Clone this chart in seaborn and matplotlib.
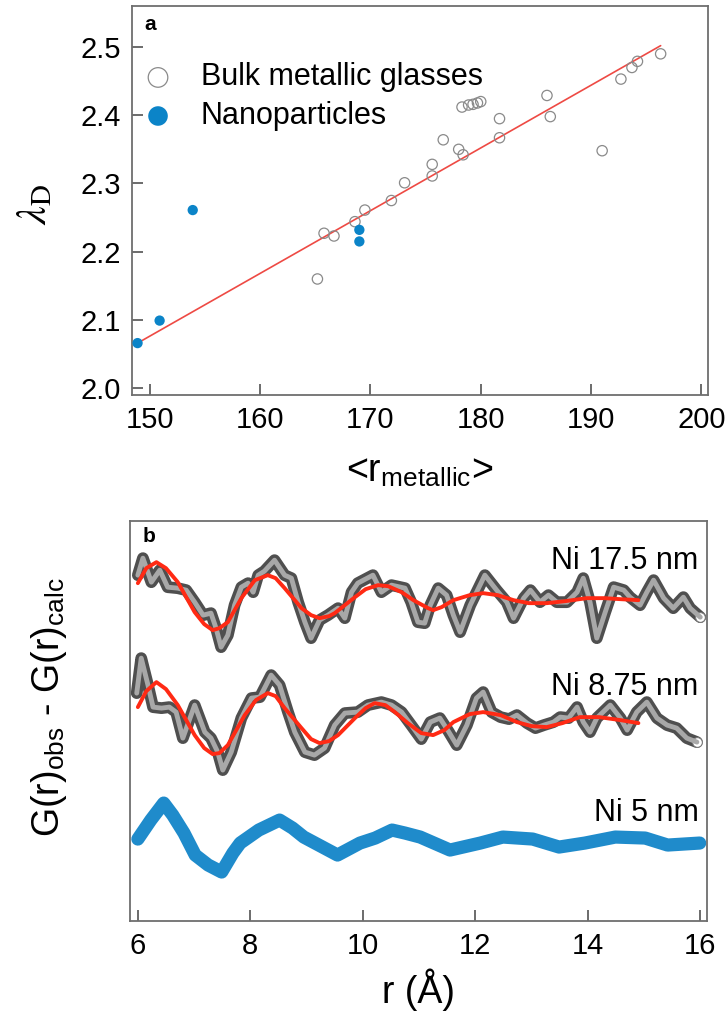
import numpy as np
import pandas as pd
import matplotlib
matplotlib.use("Agg")
import matplotlib.pyplot as plt
import seaborn as sns

# ---------------- data: panel a ----------------
bmg_r = [165.2, 165.8, 166.7, 168.6, 169.5, 171.9, 173.1, 175.6, 175.6, 176.6,
         178.0, 178.4, 178.3, 178.9, 179.3, 179.7, 180.0, 181.7, 181.7, 186.0,
         186.3, 191.0, 192.7, 193.7, 194.2, 196.3]
bmg_lam = [2.160, 2.227, 2.223, 2.244, 2.261, 2.275, 2.301, 2.311, 2.328, 2.364,
           2.350, 2.342, 2.412, 2.415, 2.416, 2.418, 2.420, 2.395, 2.367, 2.429,
           2.398, 2.348, 2.453, 2.470, 2.479, 2.490]
np_r = [148.9, 150.9, 153.9, 169.0, 169.0]
np_lam = [2.066, 2.099, 2.261, 2.232, 2.215]
fit_r = [148.9, 196.3]
fit_lam = [2.066, 2.502]
xticks_a = [150, 160, 170, 180, 190, 200]
yticks_a = [2.0, 2.1, 2.2, 2.3, 2.4, 2.5]

# ---------------- data: panel b ----------------
r17 = [6.00, 6.09, 6.24, 6.39, 6.53, 6.71, 6.86, 7.01, 7.16, 7.30, 7.39, 7.48, 7.60, 7.72,
       7.84, 7.96, 8.05, 8.14, 8.25, 8.43, 8.61, 8.73, 8.85, 8.97, 9.08, 9.23, 9.38, 9.56,
       9.68, 9.80, 9.91, 10.18, 10.33, 10.51, 10.75, 10.86, 10.98, 11.10, 11.20, 11.34,
       11.49, 11.61, 11.73, 11.91, 12.17, 12.38, 12.56, 12.68, 12.86, 12.98, 13.15, 13.30,
       13.45, 13.63, 13.81, 13.92, 14.04, 14.16, 14.31, 14.46, 14.64, 14.75, 14.93, 15.05,
       15.17, 15.35, 15.52, 15.70, 15.82, 16.00]
g17 = [34.6, 36.3, 33.9, 35.1, 33.4, 33.3, 33.1, 31.9, 30.6, 30.8, 29.3, 27.4, 28.6, 31.6,
       33.4, 33.8, 32.9, 34.6, 35.0, 36.1, 34.6, 34.3, 31.9, 29.9, 28.3, 30.1, 30.6, 31.3,
       30.3, 32.9, 33.8, 34.6, 32.9, 33.6, 33.3, 31.9, 29.9, 29.8, 31.6, 33.3,
       32.6, 30.6, 28.9, 31.6, 34.6, 33.1, 31.9, 30.3, 32.3, 33.1, 31.9, 32.6,
       31.9, 31.9, 32.9, 34.3, 31.9, 28.3, 30.9, 33.4, 33.1, 32.4, 31.6, 32.9,
       34.1, 32.3, 31.3, 32.4, 31.3, 30.4]
rf17 = [6.00, 6.15, 6.33, 6.50, 6.71, 7.01, 7.18, 7.33, 7.45, 7.60, 7.84, 8.08, 8.31, 8.45,
        8.61, 8.91, 9.08, 9.23, 9.40, 9.50, 9.86, 10.05, 10.27, 10.45, 10.69, 10.90, 11.16,
        11.25, 11.40, 11.61, 11.90, 12.14, 12.40, 12.68, 12.95, 13.27, 13.60, 13.98, 14.30,
        14.58, 14.90]
gf17 = [33.8, 35.3, 35.9, 35.3, 33.9, 30.9, 29.7, 29.1, 29.3, 29.9, 32.3, 34.1, 34.6, 34.3,
        33.3, 31.3, 30.6, 30.3, 30.5, 30.8, 32.4, 33.2, 33.6, 33.5, 32.9, 32.1, 31.3,
        31.1, 31.4, 32.1, 32.6, 32.8, 32.6, 32.1, 31.8, 31.8, 32.0, 32.3, 32.3,
        32.2, 32.1]

r8 = [5.98, 6.06, 6.18, 6.27, 6.42, 6.56, 6.68, 6.80, 7.01, 7.19, 7.30, 7.42, 7.51, 7.66,
      7.84, 8.02, 8.17, 8.37, 8.52, 8.67, 8.79, 8.97, 9.14, 9.32, 9.50, 9.68, 9.91, 10.09,
      10.33, 10.51, 10.69, 10.86, 11.04, 11.20, 11.37, 11.52, 11.67, 11.85, 12.02, 12.14,
      12.29, 12.45, 12.60, 12.74, 12.92, 13.07, 13.22, 13.39, 13.51, 13.66, 13.81, 13.92,
      14.04, 14.16, 14.40, 14.58, 14.70, 14.87, 15.05, 15.23, 15.41, 15.58, 15.76, 15.94]
g8 = [22.8, 26.3, 23.6, 21.4, 21.3, 21.4, 20.9, 18.3, 21.6, 18.9, 18.3, 16.9, 15.1, 16.9,
      20.3, 22.3, 22.4, 24.6, 23.6, 20.9, 18.9, 16.9, 16.6, 17.3, 19.6, 20.8, 20.9, 21.6,
      21.9, 21.6, 20.9, 19.6, 18.2, 19.9, 20.3, 19.0, 17.6, 19.6, 22.3, 22.9,
      20.9, 20.4, 20.2, 20.6, 19.8, 19.3, 19.6, 19.9, 20.4, 20.3, 21.4, 19.9,
      18.9, 20.3, 21.6, 20.3, 19.1, 20.9, 21.9, 20.3, 19.6, 19.3, 18.3, 17.9]
rf8 = [6.00, 6.15, 6.33, 6.50, 6.71, 7.01, 7.18, 7.33, 7.45, 7.60, 7.90, 8.10, 8.31, 8.45,
       8.61, 8.91, 9.08, 9.23, 9.40, 9.56, 9.86, 10.05, 10.21, 10.40, 10.57, 10.80, 11.04,
       11.25, 11.45, 11.61, 11.90, 12.14, 12.45, 12.74, 13.00, 13.27, 13.55, 13.86, 14.20,
       14.58, 14.90]
gf8 = [21.4, 23.0, 23.9, 23.2, 21.6, 18.6, 17.3, 16.7, 16.8, 17.6, 20.6, 22.1, 22.8, 22.5,
       21.3, 19.3, 18.2, 17.8, 18.0, 18.6, 20.3, 21.3, 21.8, 21.6, 20.9, 19.8, 18.8,
       18.6, 19.1, 19.9, 20.7, 20.9, 20.6, 19.9, 19.5, 19.4, 19.8, 20.4, 20.4,
       20.1, 19.8]

r5 = [6.00, 6.23, 6.46, 6.62, 6.82, 7.02, 7.25, 7.49, 7.69, 7.82, 8.15, 8.52, 8.75, 8.95,
      9.15, 9.55, 9.95, 10.22, 10.52, 10.75, 11.02, 11.55, 12.09, 12.49, 13.02, 13.49,
      13.95, 14.49, 15.02, 15.42, 15.99]
g5 = [8.2, 10.1, 11.8, 10.6, 8.8, 6.6, 5.6, 4.9, 6.8, 7.8, 9.1, 10.1, 9.3, 8.4,
      7.8, 6.6, 7.8, 8.3, 9.1, 8.8, 8.4, 7.1, 7.8, 8.4, 8.2, 7.4,
      7.8, 8.4, 8.3, 7.6, 7.8]
xticks_b = [6, 8, 10, 12, 14, 16]
labels_b = ["Ni 17.5 nm", "Ni 8.75 nm", "Ni 5 nm"]
label_y_b = [36.0, 23.4, 10.8]

# ---------------- style ----------------
sns.set_style("white")
plt.rcParams["font.family"] = ["Liberation Sans", "DejaVu Sans"]
plt.rcParams["mathtext.fontset"] = "stix"
for k in ("text.color", "axes.labelcolor", "xtick.color", "ytick.color"):
    plt.rcParams[k] = "black"

BLUE = "#0b84c8"
GREY_EDGE = "#8a8a8a"
SPINE = "#6e6e6e"

fig = plt.figure(figsize=(7.27, 10.14), dpi=100)
ax1 = fig.add_axes([0.1816, 0.6105, 0.7924, 0.3835])
ax2 = fig.add_axes([0.1788, 0.0917, 0.7937, 0.3943])

# ---------------- panel a ----------------
bmg = pd.DataFrame({"r": bmg_r, "lam": bmg_lam})
nps = pd.DataFrame({"r": np_r, "lam": np_lam})
fit = pd.DataFrame({"r": fit_r, "lam": fit_lam})

sns.lineplot(data=fit, x="r", y="lam", ax=ax1, color="#ee4a44", lw=1.2, zorder=1)
sns.scatterplot(data=bmg, x="r", y="lam", ax=ax1, s=55, facecolors="none",
                edgecolor=GREY_EDGE, linewidth=0.9, label="Bulk metallic glasses", zorder=2)
sns.scatterplot(data=nps, x="r", y="lam", ax=ax1, s=55, color=BLUE,
                edgecolor="none", label="Nanoparticles", zorder=3)

ax1.set_xlim(148.4, 200.6)
ax1.set_ylim(1.99, 2.56)
ax1.set_xticks(xticks_a)
ax1.set_yticks(yticks_a)
ax1.set_yticklabels([f"{v:.1f}" for v in yticks_a])
ax1.set_xlabel("<r$_{\\mathregular{metallic}}$>", fontsize=27, labelpad=14)
ax1.set_ylabel("$\\lambda_{\\mathrm{D}}$", fontsize=30)
ax1.yaxis.set_label_coords(-0.134, 0.49)
ax1.text(0.022, 0.978, "a", transform=ax1.transAxes, ha="left", va="top",
         fontsize=15, fontweight="bold")
leg = ax1.legend(loc="upper left", bbox_to_anchor=(0.0186, 0.855), frameon=False,
                 markerscale=1.9, fontsize=22, handlelength=1.0, handletextpad=0.9,
                 labelspacing=0.28, borderpad=0, borderaxespad=0)

# ---------------- panel b ----------------
d17 = pd.DataFrame({"r": r17, "g": g17})
f17 = pd.DataFrame({"r": rf17, "g": gf17})
d8 = pd.DataFrame({"r": r8, "g": g8})
f8 = pd.DataFrame({"r": rf8, "g": gf8})
d5 = pd.DataFrame({"r": r5, "g": g5})

for d in (d17, d8):
    sns.lineplot(data=d, x="r", y="g", ax=ax2, sort=False, color="#4f4f4f", lw=8.5,
                 solid_joinstyle="round", solid_capstyle="round", zorder=2,
                 marker="o", markevery=[len(d) - 1], markersize=7,
                 markerfacecolor="white", markeredgecolor="#777777")
    sns.lineplot(data=d, x="r", y="g", ax=ax2, sort=False, color="#a8a8a8", lw=3.5,
                 solid_joinstyle="round", solid_capstyle="round", zorder=3)
for f in (f17, f8):
    sns.lineplot(data=f, x="r", y="g", ax=ax2, sort=False, color="#ff2a14", lw=2.8,
                 solid_joinstyle="round", solid_capstyle="round", zorder=4)
sns.lineplot(data=d5, x="r", y="g", ax=ax2, sort=False, color="#1f8bcb", lw=9.5,
             solid_joinstyle="round", solid_capstyle="round", zorder=2)

for lab, yy in zip(labels_b, label_y_b):
    ax2.text(15.97, yy, lab, ha="right", va="center", fontsize=22)
ax2.text(0.022, 0.985, "b", transform=ax2.transAxes, ha="left", va="top",
         fontsize=15, fontweight="bold")

ax2.set_xlim(5.86, 16.12)
ax2.set_ylim(0, 40)
ax2.set_xticks(xticks_b)
ax2.set_yticks([])
ax2.set_xlabel("r (Å)", fontsize=27, labelpad=6)
ax2.set_ylabel("G(r)$_{\\mathregular{obs}}$ - G(r)$_{\\mathregular{calc}}$", fontsize=27)
ax2.yaxis.set_label_coords(-0.105, 0.535)

for ax in (ax1, ax2):
    for sp in ax.spines.values():
        sp.set_color(SPINE)
        sp.set_linewidth(1.3)
    ax.tick_params(direction="in", length=8, width=1.1, color="#444444",
                   labelsize=21, pad=8, bottom=True, left=True)

fig.savefig("out.png", dpi=100)
